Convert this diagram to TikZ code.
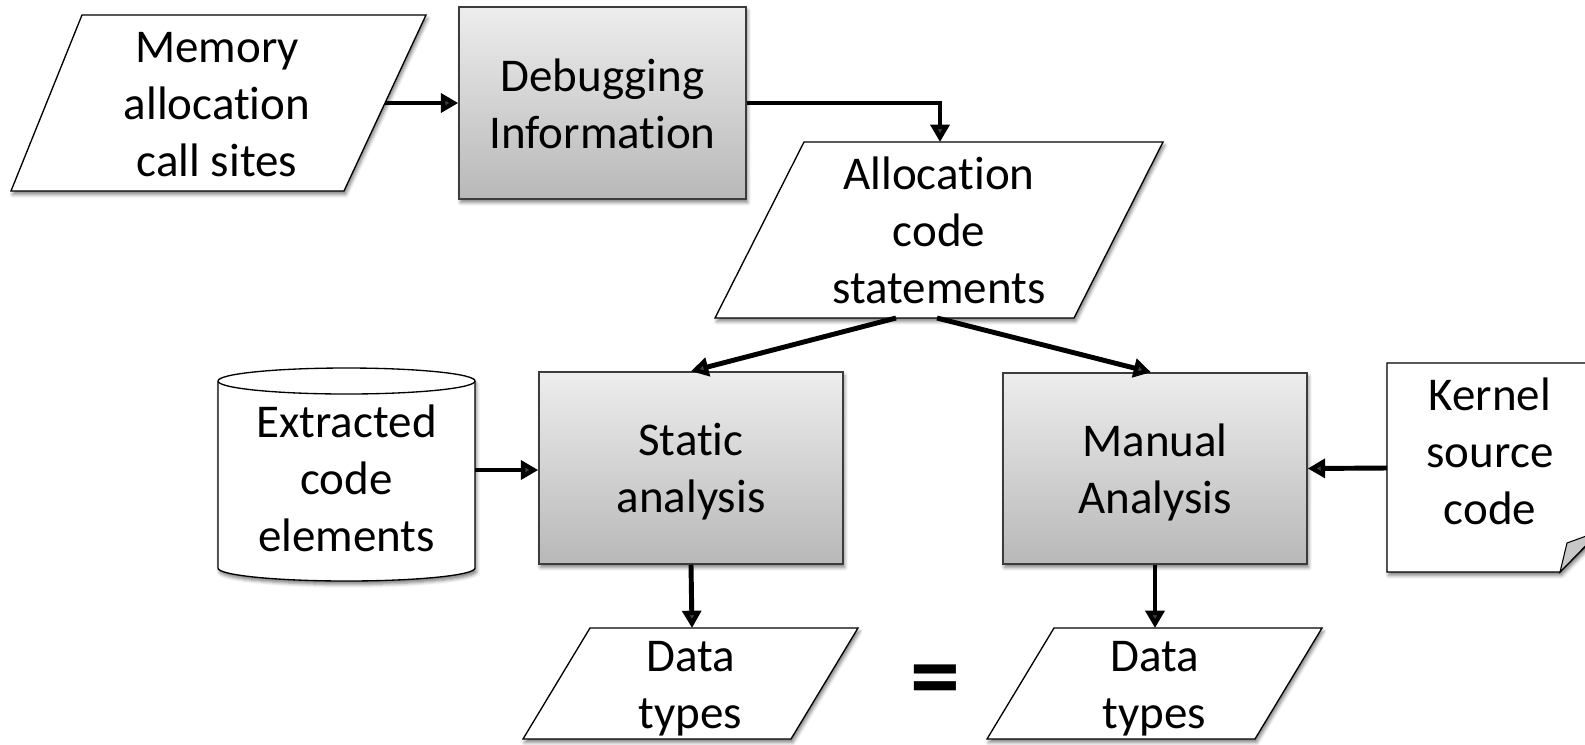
\documentclass[tikz,border=0pt]{standalone}
\usepackage{fontspec}
\setmainfont{Carlito}[Ligatures={NoCommon,NoRequired,NoContextual},Contextuals=NoAlternate]
\usetikzlibrary{arrows.meta,shadows.blur,calc}

\definecolor{boxtop}{RGB}{237,237,237}
\definecolor{boxbot}{RGB}{184,184,184}
\definecolor{boxline}{RGB}{60,60,60}
\definecolor{foldgray}{RGB}{200,200,200}

% strut that fixes the line box of the first and last text lines
\newcommand\lstrut{\rule[-5.25pt]{0pt}{35.25pt}}

\begin{document}
\begin{tikzpicture}[x=0.75pt,y=-0.75pt,
  txt/.style={font=\fontsize{35.25}{42.75}\selectfont, align=center, inner sep=0pt},
  soft/.style={blur shadow={shadow xshift=1.2pt,shadow yshift=-2.6pt,
      shadow blur radius=2.6pt,shadow opacity=50}},
  process/.style={txt, draw=boxline, line width=1.1pt,
      top color=boxtop, bottom color=boxbot, soft},
  datashape/.style={draw=black, line width=1pt, fill=white, soft},
  conn/.style={line width=3.7pt, -{Triangle[length=13pt,width=14pt]}},
]
\useasboundingbox (0,0) rectangle (1585,744);

% ---- input: memory allocation call sites
\path[datashape] (82,15) -- (426,15) -- (344,191) -- (11,191) -- cycle;
\node[txt] (mem) at (217,103) {\lstrut Memory\\allocation\\call sites\lstrut};
\coordinate (memOut) at (385,103);

% ---- debugging information
\node[process, minimum width=215.25pt, minimum height=144pt] (dbg) at (602.5,103)
  {\lstrut Debugging\\Information\lstrut};

% ---- allocation code statements
\path[datashape] (804,142) -- (1163,142) -- (1074,318) -- (715,318) -- cycle;
\node[txt] (alloc) at (939,230) {\lstrut Allocation\\code\\statements\lstrut};
\coordinate (allocIn) at (940,142);
\coordinate (allocL) at (896,318);
\coordinate (allocR) at (937,318);

% ---- extracted code elements (database)
\path[datashape] (218,381) -- (218,568)
  arc[start angle=180,end angle=360,x radius=96.375pt,y radius=9.75pt]
  -- (475,381)
  arc[start angle=0,end angle=180,x radius=96.375pt,y radius=9.75pt] -- cycle;
\draw[line width=1pt] (218,381)
  arc[start angle=180,end angle=360,x radius=96.375pt,y radius=9.75pt];
\node[txt] (cyl) at (346.5,477.5) {\lstrut Extracted\\code\\elements\lstrut};
\coordinate (cylOut) at (475,470);

% ---- analysis steps
\node[process, minimum width=228pt, minimum height=144pt] (stat) at (691,468)
  {\lstrut Static\\analysis\lstrut};
\node[process, minimum width=228pt, minimum height=143.25pt] (man) at (1155,468.5)
  {\lstrut Manual\\Analysis\lstrut};

% ---- kernel source code (document with folded corner)
\path[datashape] (1387,363) -- (1600,363) -- (1600,532) -- (1560,572)
  -- (1387,572) -- cycle;
\draw[line width=0.8pt, fill=foldgray] (1560,572) -- (1567,543) -- (1600,531) -- cycle;
\node[txt] (kernel) at (1490,450.5) {\lstrut Kernel\\source\\code\lstrut};
\coordinate (kerIn) at (1387,468);

% ---- outputs: data types
\path[datashape] (590,628) -- (858,628) -- (791,739) -- (523,739) -- cycle;
\node[txt] (dataL) at (690.5,683.5) {\lstrut Data\\types\lstrut};
\coordinate (dataLIn) at (692,628);

\path[datashape] (1054,628) -- (1322,628) -- (1255,739) -- (987,739) -- cycle;
\node[txt] (dataR) at (1154.5,683.5) {\lstrut Data\\types\lstrut};
\coordinate (dataRIn) at (1155,628);

\node[inner sep=0pt, font=\fontsize{75}{75}\selectfont\bfseries] (eq) at (935,687.5) {=};

% ---- connectors
\draw[conn] (memOut) -- (dbg.west);
\draw[conn] (dbg.east) -| (allocIn);
\draw[conn] (allocL) -- (stat.north);
\draw[conn] (allocR) -- ($(man.north)+(-4,0)$);
\draw[conn] (cylOut) -- (cylOut -| stat.west);
\draw[conn] (kerIn) -- (man.east);
\draw[conn] (stat.south) -- (dataLIn);
\draw[conn] (man.south) -- (dataRIn);
\end{tikzpicture}
\end{document}
